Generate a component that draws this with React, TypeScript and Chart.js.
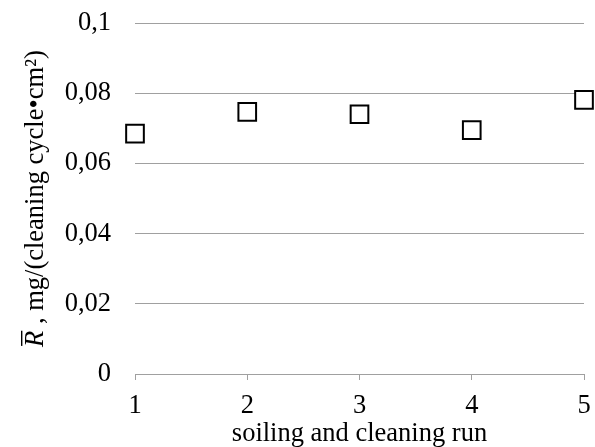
import React, { useEffect, useRef } from "react";
import { Chart, registerables } from "chart.js";

Chart.register(...registerables);

const runs = [1, 2, 3, 4, 5];
const rValues = [0.0685, 0.0747, 0.074, 0.0695, 0.0781];
const yMin = 0;
const yMax = 0.1;
const yStep = 0.02;
const xTitle = "soiling and cleaning run";
const yTitleSymbol = "R";
const yTitleRest = " , mg/(cleaning cycle•cm²)";

const FONT_FAMILY = '"Liberation Serif", "Times New Roman", serif';
const FONT_SIZE = 26.5;
const GRID = "#a0a0a0";

const titlePlugin = {
  id: "customTitles",
  afterDraw(chart: any) {
    const ctx = chart.ctx as CanvasRenderingContext2D;
    const ca = chart.chartArea;
    ctx.save();
    ctx.fillStyle = "#000";
    const normal = `${FONT_SIZE}px ${FONT_FAMILY}`;
    const italic = `italic ${FONT_SIZE}px ${FONT_FAMILY}`;
    // x title
    ctx.font = normal;
    ctx.textAlign = "center";
    ctx.textBaseline = "alphabetic";
    ctx.fillText(xTitle, (ca.left + ca.right) / 2, 441);
    // y title
    const cy = (ca.top + ca.bottom) / 2;
    ctx.translate(43, cy);
    ctx.rotate(-Math.PI / 2);
    ctx.textAlign = "left";
    ctx.font = italic;
    const wR = ctx.measureText(yTitleSymbol).width;
    ctx.font = normal;
    const wRest = ctx.measureText(yTitleRest).width;
    const x0 = -(wR + wRest) / 2;
    ctx.font = italic;
    ctx.fillText(yTitleSymbol, x0, 0);
    ctx.fillRect(x0 + 1, -22, wR - 1, 1.4);
    ctx.font = normal;
    ctx.fillText(yTitleRest, x0 + wR, 0);
    ctx.restore();
  },
};

export default function App() {
  const ref = useRef<HTMLCanvasElement>(null);
  useEffect(() => {
    document.body.style.margin = "0";
    const canvas = ref.current!;
    const font = { family: FONT_FAMILY, size: FONT_SIZE };
    const chart = new Chart(canvas, {
      type: "scatter",
      data: {
        datasets: [
          {
            data: runs.map((x, i) => ({ x, y: rValues[i] })),
            pointStyle: "rect",
            pointRadius: 12.5,
            pointHoverRadius: 12.5,
            borderColor: "#000",
            backgroundColor: "#fff",
            borderWidth: 2,
            clip: false,
          } as any,
        ],
      },
      options: {
        responsive: false,
        animation: false,
        layout: { autoPadding: false, padding: { top: 23, right: 11, left: 0, bottom: 0 } },
        plugins: {
          legend: { display: false },
          tooltip: { enabled: false },
        },
        scales: {
          x: {
            type: "linear",
            min: runs[0],
            max: runs[runs.length - 1],
            ticks: { stepSize: 1, color: "#000", font, padding: 10 },
            grid: { drawOnChartArea: false, drawTicks: true, tickLength: 6, color: GRID },
            border: { display: true, color: GRID },
            afterFit: (s: any) => {
              s.height = 73;
              s.paddingLeft = 0;
              s.paddingRight = 0;
            },
          },
          y: {
            min: yMin,
            max: yMax,
            ticks: {
              stepSize: yStep,
              color: "#000",
              font,
              padding: 24,
              callback: (v: any) => String(Math.round(Number(v) * 100) / 100).replace(".", ","),
            },
            grid: { color: GRID, drawTicks: false },
            border: { display: false },
            afterFit: (s: any) => {
              s.width = 135;
              s.paddingTop = 0;
              s.paddingBottom = 0;
            },
          },
        },
      },
      plugins: [titlePlugin],
    });
    return () => chart.destroy();
  }, []);
  return (
    <div style={{ width: 595, height: 447 }}>
      <canvas ref={ref} width={595} height={447} />
    </div>
  );
}
